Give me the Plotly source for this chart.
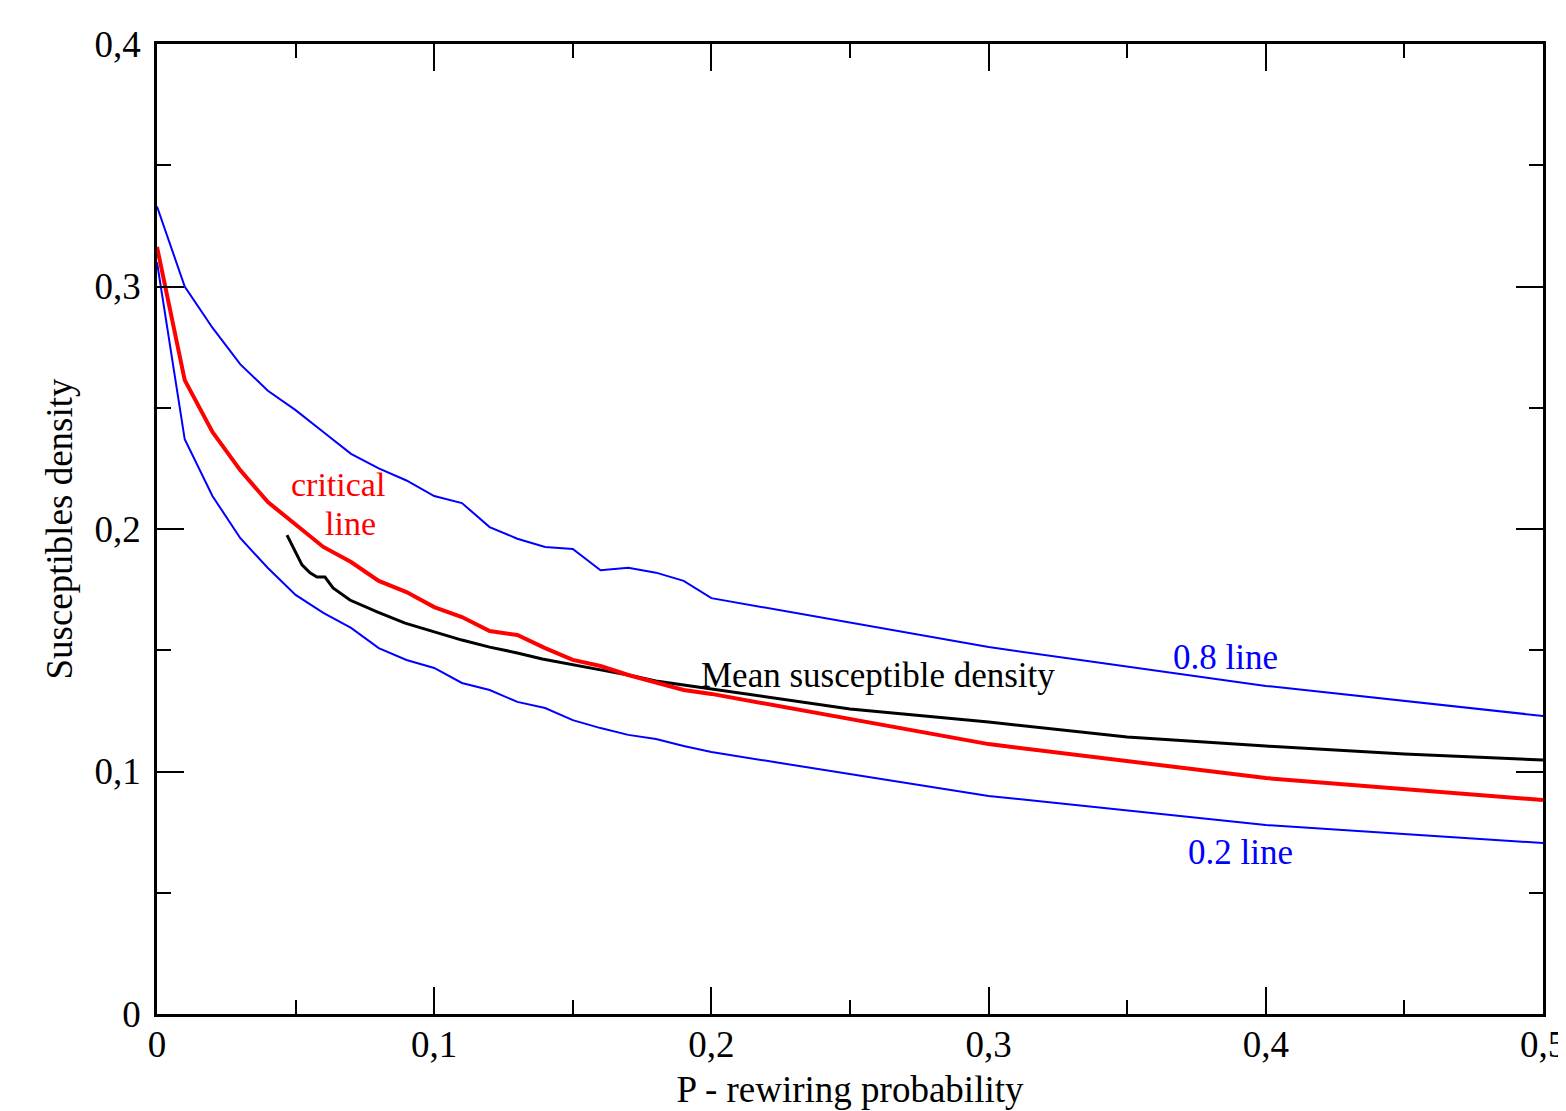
import plotly.graph_objects as go

# Data
p_grid = [0, 0.01, 0.02, 0.03, 0.04, 0.05, 0.06, 0.07, 0.08, 0.09, 0.10,
          0.11, 0.12, 0.13, 0.14, 0.15, 0.16, 0.17, 0.18, 0.19, 0.20,
          0.30, 0.40, 0.50]

line_08 = [0.333, 0.300, 0.283, 0.268, 0.257, 0.249, 0.240, 0.231, 0.225, 0.220,
           0.2136, 0.2107, 0.2008, 0.196, 0.1926, 0.1918, 0.183, 0.184, 0.182,
           0.1786, 0.1715, 0.1513, 0.1353, 0.1229]

critical = [0.3163, 0.2614, 0.240, 0.2243, 0.2111, 0.2016, 0.1926, 0.1864, 0.1786,
            0.1740, 0.1678, 0.1637, 0.1579, 0.1563, 0.1509, 0.1460, 0.1435, 0.1398,
            0.1365, 0.1336, 0.1320, 0.1113, 0.0973, 0.0882]

line_02 = [0.310, 0.237, 0.2136, 0.1963, 0.1839, 0.1728, 0.1654, 0.1592, 0.1509,
           0.1460, 0.1427, 0.1365, 0.1336, 0.1287, 0.1262, 0.1212, 0.1179, 0.1151,
           0.1134, 0.1105, 0.1080, 0.0899, 0.0779, 0.0705]

mean_p = [0.0469, 0.0523, 0.0552, 0.0577, 0.0606, 0.0635, 0.0696, 0.0794, 0.0895,
          0.0996, 0.110, 0.120, 0.130, 0.139, 0.150, 0.160, 0.170, 0.180, 0.190,
          0.200, 0.250, 0.300, 0.350, 0.400, 0.450, 0.500]
mean_density = [0.1975, 0.1852, 0.1819, 0.1802, 0.1802, 0.1757, 0.1707, 0.1658,
                0.1612, 0.1579, 0.1542, 0.1513, 0.1489, 0.1464, 0.1439, 0.1419,
                0.1398, 0.1373, 0.1357, 0.1340, 0.1258, 0.1204, 0.1142, 0.1105,
                0.1072, 0.1047]

FONT = "Liberation Serif"

fig = go.Figure()
fig.add_trace(go.Scatter(x=p_grid, y=line_08, mode="lines",
                         line=dict(color="#0000ff", width=2), showlegend=False))
fig.add_trace(go.Scatter(x=p_grid, y=line_02, mode="lines",
                         line=dict(color="#0000ff", width=2), showlegend=False))
fig.add_trace(go.Scatter(x=mean_p, y=mean_density, mode="lines",
                         line=dict(color="#000000", width=3), showlegend=False))
fig.add_trace(go.Scatter(x=p_grid, y=critical, mode="lines",
                         line=dict(color="#ff0000", width=4), showlegend=False))

ann_font = dict(family=FONT, size=35)
fig.add_annotation(x=0.0652, y=0.2175, yshift=2, text="critical", showarrow=False,
                   font=dict(family=FONT, size=34, color="#ff0000"))
fig.add_annotation(x=0.0699, y=0.2029, yshift=-2, text="line", showarrow=False,
                   font=dict(family=FONT, size=34, color="#ff0000"))
fig.add_annotation(x=0.2602, y=0.1394, text="Mean susceptible density", showarrow=False,
                   font=dict(ann_font, color="#000000"))
fig.add_annotation(x=0.3854, y=0.1472, text="0.8 line", showarrow=False,
                   font=dict(ann_font, color="#0000ff"))
fig.add_annotation(x=0.3910, y=0.0668, text="0.2 line", showarrow=False,
                   font=dict(ann_font, color="#0000ff"))

axis_common = dict(
    showline=True, linecolor="black", linewidth=2.5, mirror="allticks",
    ticks="inside", ticklen=27, tickwidth=2, tickcolor="black",
    showgrid=False, zeroline=False, automargin=False,
    ticklabeloverflow="allow",
    tickfont=dict(family=FONT, size=37, color="black"),
    minor=dict(ticks="inside", ticklen=14, tickwidth=2, tickcolor="black", dtick=0.05),
)

fig.update_xaxes(range=[0, 0.5], dtick=0.1, tick0=0, ticklabelstandoff=-4,
                 title=dict(text="P - rewiring probability", standoff=12,
                            font=dict(family=FONT, size=37, color="black")),
                 **axis_common)
fig.update_yaxes(range=[0, 0.4], dtick=0.1, tick0=0, ticklabelstandoff=6,
                 title=dict(text="Susceptibles density", standoff=11,
                            font=dict(family=FONT, size=37, color="black")),
                 **axis_common)

fig.update_layout(
    width=1566, height=1111,
    margin=dict(l=149, r=31, t=36, b=105),
    paper_bgcolor="white", plot_bgcolor="white",
    separators=",.",
    font=dict(family=FONT, color="black"),
)

fig.write_html("out.html")
